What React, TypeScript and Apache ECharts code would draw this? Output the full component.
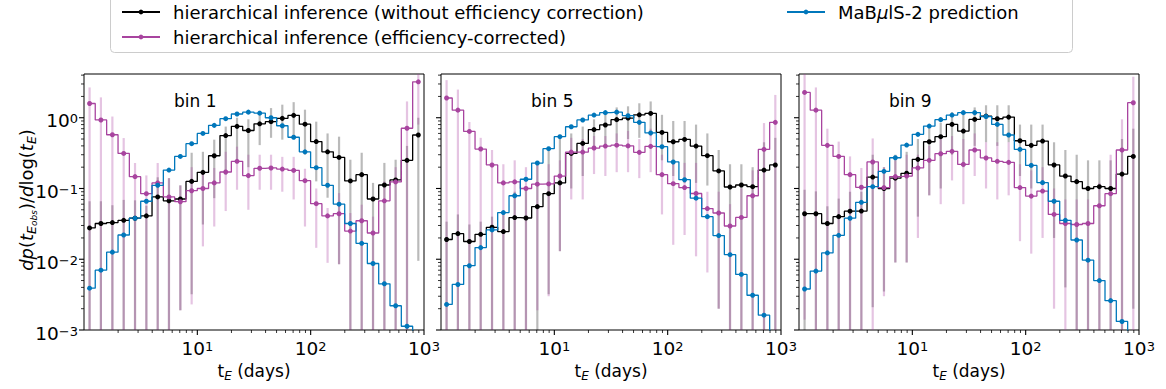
import React, { useEffect, useRef } from 'react';
import * as echarts from 'echarts';

// bin centres (days)
const tE = [1.12, 1.41, 1.78, 2.24, 2.82, 3.55, 4.47, 5.62, 7.08, 8.91, 11.2, 14.1, 17.8, 22.4, 28.2, 35.5, 44.7, 56.2, 70.8, 89.1, 112, 141, 178, 224, 282, 355, 447, 562, 708, 891];

const binLabels = ['bin 1', 'bin 5', 'bin 9'];

// ---------- bin 1 ----------
const blue1 = [0.0039, 0.007, 0.0126, 0.022, 0.038, 0.066, 0.111, 0.182, 0.284, 0.43, 0.6, 0.78, 0.97, 1.13, 1.2, 1.16, 1.0, 0.77, 0.53, 0.33, 0.197, 0.111, 0.06, 0.032, 0.0168, 0.0087, 0.0045, 0.0022, 0.00113, 0.0006];
const black1 = [0.0277, 0.032, 0.033, 0.0355, 0.038, 0.041, 0.076, 0.067, 0.071, 0.126, 0.169, 0.29, 0.56, 0.755, 0.66, 0.82, 0.88, 0.98, 1.08, 0.81, 0.46, 0.33, 0.275, 0.128, 0.157, 0.071, 0.112, 0.132, 0.25, 0.57];
const black1Lo = [1e-4, 1e-4, 1e-4, 1e-4, 1e-4, 1e-4, 1e-4, 1e-4, 0.0019, 0.0032, 0.031, 0.073, 0.157, 0.25, 0.2, 0.41, 0.52, 0.49, 0.52, 0.3, 0.126, 0.074, 0.0085, 1e-4, 1e-4, 1e-4, 1e-4, 1e-4, 1e-4, 0.0095];
const black1Hi = [0.066, 0.066, 0.058, 0.069, 0.068, 0.057, 0.144, 0.14, 0.111, 0.32, 0.33, 0.49, 0.75, 1.0, 0.95, 1.26, 1.37, 1.53, 1.66, 1.3, 0.88, 0.6, 0.54, 0.255, 0.32, 0.12, 0.23, 0.255, 0.4, 1.0];
const mag1 = [1.59, 0.93, 0.575, 0.313, 0.147, 0.0845, 0.12, 0.076, 0.065, 0.093, 0.1, 0.12, 0.171, 0.242, 0.152, 0.193, 0.195, 0.188, 0.18, 0.129, 0.061, 0.041, 0.044, 0.025, 0.035, 0.0235, 0.067, 0.124, 0.71, 3.22];
const mag1Lo = [1e-4, 1e-4, 1e-4, 1e-4, 1e-4, 1e-4, 1e-4, 1e-4, 0.0019, 0.0023, 0.0152, 0.029, 0.048, 0.096, 0.05, 0.096, 0.096, 0.09, 0.07, 0.029, 0.0145, 0.0089, 0.0085, 1e-4, 1e-4, 1e-4, 1e-4, 1e-4, 1e-4, 0.8];
const mag1Hi = [2.68, 1.94, 1.04, 0.516, 0.229, 0.153, 0.229, 0.14, 0.11, 0.2, 0.175, 0.195, 0.33, 0.39, 0.3, 0.3, 0.3, 0.28, 0.28, 0.19, 0.1, 0.053, 0.086, 0.045, 0.059, 0.04, 0.126, 0.2, 1.7, 5];

// ---------- bin 5 ----------
const blue2 = [0.0023, 0.0044, 0.0081, 0.0146, 0.026, 0.0457, 0.079, 0.135, 0.229, 0.365, 0.54, 0.746, 0.93, 1.09, 1.18, 1.2, 1.07, 0.86, 0.61, 0.39, 0.237, 0.133, 0.073, 0.04, 0.0216, 0.0116, 0.0061, 0.0031, 0.00162, 0.0008];
const black2 = [0.019, 0.023, 0.0178, 0.0225, 0.0283, 0.0246, 0.0388, 0.0383, 0.0554, 0.0845, 0.12, 0.313, 0.434, 0.68, 0.79, 0.94, 0.99, 1.1, 1.15, 0.62, 0.458, 0.494, 0.398, 0.291, 0.177, 0.105, 0.112, 0.106, 0.182, 0.215];
const black2Lo = [1e-4, 1e-4, 1e-4, 1e-4, 1e-4, 1e-4, 1e-4, 1e-4, 1e-4, 0.0032, 0.013, 0.1, 0.15, 0.35, 0.42, 0.45, 0.5, 0.52, 0.55, 0.25, 0.15, 0.12, 0.12, 0.11, 0.002, 1e-4, 1e-4, 1e-4, 1e-4, 1e-4];
const black2Hi = [0.034, 0.043, 0.031, 0.034, 0.04, 0.043, 0.09, 0.1, 0.22, 0.35, 0.52, 0.6, 0.75, 0.95, 1.1, 1.4, 1.45, 1.6, 1.7, 1.1, 0.9, 0.9, 0.8, 0.6, 0.35, 0.22, 0.22, 0.2, 0.45, 0.52];
const mag2 = [1.9, 1.28, 0.64, 0.361, 0.215, 0.12, 0.124, 0.1, 0.115, 0.116, 0.15, 0.327, 0.327, 0.373, 0.398, 0.41, 0.4, 0.324, 0.394, 0.157, 0.117, 0.103, 0.085, 0.052, 0.045, 0.0295, 0.039, 0.079, 0.357, 0.86];
const mag2Lo = [1e-4, 1e-4, 1e-4, 1e-4, 1e-4, 1e-4, 1e-4, 1e-4, 0.0019, 0.003, 0.013, 0.07, 0.07, 0.16, 0.15, 0.17, 0.17, 0.14, 0.17, 0.043, 0.016, 0.022, 0.011, 0.0065, 0.002, 1e-4, 1e-4, 1e-4, 1e-4, 1e-4];
const mag2Hi = [3.4, 2.5, 0.87, 0.52, 0.35, 0.22, 0.25, 0.2, 0.22, 0.22, 0.25, 0.52, 0.5, 0.55, 0.55, 0.6, 0.65, 0.5, 0.7, 0.3, 0.23, 0.23, 0.23, 0.09, 0.09, 0.06, 0.1, 0.18, 0.84, 2.1];

// ---------- bin 9 ----------
const blue3 = [0.0038, 0.0068, 0.0123, 0.0218, 0.038, 0.0638, 0.106, 0.175, 0.272, 0.411, 0.582, 0.762, 0.94, 1.09, 1.18, 1.18, 1.04, 0.805, 0.57, 0.357, 0.212, 0.121, 0.066, 0.0355, 0.0187, 0.0097, 0.005, 0.0026, 0.00132, 0.0007];
const black3 = [0.044, 0.044, 0.032, 0.04, 0.0478, 0.048, 0.145, 0.1, 0.14, 0.164, 0.258, 0.458, 0.54, 0.805, 0.648, 0.947, 1.056, 0.968, 1.02, 0.473, 0.407, 0.468, 0.215, 0.15, 0.125, 0.1, 0.106, 0.1, 0.16, 0.284];
const black3Lo = [1e-4, 1e-4, 1e-4, 1e-4, 1e-4, 1e-4, 0.0021, 0.0035, 0.009, 0.009, 0.04, 0.08, 0.1, 0.3, 0.2, 0.4, 0.45, 0.4, 0.45, 0.15, 0.1, 0.12, 0.02, 0.004, 1e-4, 1e-4, 1e-4, 1e-4, 1e-4, 0.002];
const black3Hi = [0.096, 0.091, 0.056, 0.072, 0.09, 0.09, 0.3, 0.2, 0.3, 0.33, 0.5, 0.75, 0.85, 1.2, 1.1, 1.4, 1.5, 1.5, 1.5, 0.8, 0.8, 0.8, 0.45, 0.35, 0.3, 0.25, 0.25, 0.25, 0.5, 0.7];
const mag3 = [2.28, 1.28, 0.407, 0.284, 0.157, 0.104, 0.237, 0.103, 0.147, 0.15, 0.195, 0.25, 0.31, 0.335, 0.219, 0.35, 0.27, 0.242, 0.234, 0.103, 0.078, 0.092, 0.043, 0.032, 0.031, 0.032, 0.057, 0.0845, 0.35, 1.63];
const mag3Lo = [0.0014, 1e-4, 1e-4, 1e-4, 1e-4, 1e-4, 1e-4, 0.003, 0.009, 0.009, 0.02, 0.08, 0.06, 0.13, 0.06, 0.15, 0.1, 0.07, 0.08, 0.018, 0.012, 0.02, 0.002, 1e-4, 1e-4, 1e-4, 1e-4, 1e-4, 1e-4, 1e-4];
const mag3Hi = [4.5, 2.68, 0.7, 0.46, 0.284, 0.195, 0.51, 0.2, 0.25, 0.3, 0.3, 0.4, 0.5, 0.55, 0.5, 0.6, 0.45, 0.45, 0.45, 0.22, 0.18, 0.2, 0.1, 0.07, 0.07, 0.07, 0.12, 0.3, 0.95, 3.8];

// ticks
const xMajorTicks = [10, 100, 1000];
const xMinorTicks = [2, 3, 4, 5, 6, 7, 8, 9, 20, 30, 40, 50, 60, 70, 80, 90, 200, 300, 400, 500, 600, 700, 800, 900];
const yMajorTicks = [0.001, 0.01, 0.1, 1];
const yMinorTicks = [0.002, 0.003, 0.004, 0.005, 0.006, 0.007, 0.008, 0.009, 0.02, 0.03, 0.04, 0.05, 0.06, 0.07, 0.08, 0.09, 0.2, 0.3, 0.4, 0.5, 0.6, 0.7, 0.8, 0.9, 2, 3, 4];

const panels = [
  { blue: blue1, black: black1, blackLo: black1Lo, blackHi: black1Hi, mag: mag1, magLo: mag1Lo, magHi: mag1Hi },
  { blue: blue2, black: black2, blackLo: black2Lo, blackHi: black2Hi, mag: mag2, magLo: mag2Lo, magHi: mag2Hi },
  { blue: blue3, black: black3, blackLo: black3Lo, blackHi: black3Hi, mag: mag3, magLo: mag3Lo, magHi: mag3Hi },
];

const GRID_LEFT = [84, 441, 799];
const GRID_TOP = 74;
const GRID_W = 340;
const GRID_H = 256;
const X_MIN = 1;
const X_MAX = 1000;
const Y_MIN = 0.001;
const Y_MAX = 4.15;

const NAME_BLACK = 'hierarchical inference (without efficiency correction)';
const NAME_MAG = 'hierarchical inference (efficiency-corrected)';
const NAME_BLUE = 'MaBμlS-2 prediction';
const C_BLACK = '#000000';
const C_MAG = '#a8449f';
const C_BLUE = '#0077bb';
const ERR_MAG = 'rgba(170, 60, 160, 0.3)';
const ERR_BLACK = 'rgba(0, 0, 0, 0.27)';
const FONT = 'DejaVu Sans';
const FS = 17;
const FS_TICK = 18.5;
const FS_LEG = 18;

function powLabel(v: number, hideZero: boolean) {
  const l = Math.log10(v);
  const e = Math.round(l);
  if (Math.abs(l - e) > 1e-6) return '';
  if (hideZero && e === 0) return '';
  const es = e < 0 ? '\u2212' + String(-e) : String(e);
  return '{b|10}{s|' + es + '}';
}

const powRich = {
  b: { fontSize: FS_TICK, lineHeight: 21, padding: [6, 0, 0, 0], fontFamily: FONT, color: '#000' },
  s: { fontSize: 13, lineHeight: 11, padding: [5, 0, 0, 0], verticalAlign: 'top', fontFamily: FONT, color: '#000' },
};

const xNameRich = {
  n: { fontSize: FS, lineHeight: 22, fontFamily: FONT, color: '#000' },
  s: { fontSize: 12, lineHeight: 13, verticalAlign: 'bottom', fontStyle: 'italic', fontFamily: FONT, color: '#000' },
};

function buildOption() {
  const series: any[] = [];
  panels.forEach((p, g) => {
    const errSeries = (lo: number[], hi: number[], color: string) => ({
      type: 'custom',
      xAxisIndex: g,
      yAxisIndex: g,
      silent: true,
      z: 1,
      data: tE.map((x, i) => [x, lo[i], hi[i]]),
      renderItem: (params: any, api: any) => {
        const x = api.value(0);
        const a = Math.max(api.value(1), Y_MIN);
        const b = Math.min(api.value(2), Y_MAX);
        const p1 = api.coord([x, a]);
        const p2 = api.coord([x, b]);
        return {
          type: 'line',
          shape: { x1: p1[0], y1: p1[1], x2: p2[0], y2: p2[1] },
          style: { stroke: color, lineWidth: 2.2 },
        };
      },
    });
    series.push(errSeries(p.blackLo, p.blackHi, ERR_BLACK));
    series.push(errSeries(p.magLo, p.magHi, ERR_MAG));

    const lineSeries = (name: string, vals: number[], color: string) => ({
      type: 'line',
      name,
      xAxisIndex: g,
      yAxisIndex: g,
      data: tE.map((x, i) => [x, vals[i]]),
      step: 'middle',
      symbol: 'circle',
      symbolSize: 5,
      showSymbol: true,
      clip: true,
      z: 3,
      lineStyle: { width: 1.3, color },
      itemStyle: { color },
      emphasis: { disabled: true },
    });
    series.push(lineSeries(NAME_BLACK, p.black, C_BLACK));
    series.push(lineSeries(NAME_MAG, p.mag, C_MAG));
    series.push(lineSeries(NAME_BLUE, p.blue, C_BLUE));

    // axis ticks (major + minor), drawn through the axis scales
    const tickSeries = (data: number[][], dir: 'x' | 'y') => ({
      type: 'custom',
      xAxisIndex: g,
      yAxisIndex: g,
      silent: true,
      z: 5,
      data,
      renderItem: (params: any, api: any) => {
        const pt = api.coord([api.value(0), api.value(1)]);
        const len = api.value(2);
        const lw = len > 4 ? 1.1 : 0.8;
        const shape = dir === 'x'
          ? { x1: pt[0], y1: pt[1], x2: pt[0], y2: pt[1] + len }
          : { x1: pt[0] - len, y1: pt[1], x2: pt[0], y2: pt[1] };
        return { type: 'line', shape, style: { stroke: '#000', lineWidth: lw } };
      },
    });
    series.push(tickSeries(
      xMajorTicks.map((v) => [v, Y_MIN, 5]).concat(xMinorTicks.map((v) => [v, Y_MIN, 3])), 'x'));
    series.push(tickSeries(
      yMajorTicks.map((v) => [X_MIN, v, 5]).concat(yMinorTicks.map((v) => [X_MIN, v, 3])), 'y'));
  });

  const legendCommon = {
    orient: 'vertical',
    top: 2,
    padding: 0,
    itemGap: 5,
    itemWidth: 38,
    itemHeight: 6,
    selectedMode: false,
    textStyle: {
      fontSize: FS_LEG,
      lineHeight: 20,
      fontFamily: FONT,
      color: '#000',
      padding: [0, 0, 0, 8],
      rich: {
        n: { fontSize: FS_LEG, fontFamily: FONT, color: '#000' },
        m: { fontSize: FS_LEG, fontFamily: FONT, fontStyle: 'italic', color: '#000' },
      },
    },
  };

  const yLabelRich = {
    i: { fontSize: 18, lineHeight: 24, fontStyle: 'italic', fontFamily: FONT, fill: '#000' },
    u: { fontSize: 18, lineHeight: 24, fontFamily: FONT, fill: '#000' },
    s1: { fontSize: 12.5, lineHeight: 14, verticalAlign: 'bottom', fontStyle: 'italic', fontFamily: FONT, fill: '#000' },
    s2: { fontSize: 9, lineHeight: 8, verticalAlign: 'bottom', fontStyle: 'italic', fontFamily: FONT, fill: '#000' },
  };

  const graphics: any[] = [
    {
      type: 'rect',
      z: 0,
      shape: { x: 110.5, y: -4.5, width: 962, height: 57, r: 4 },
      style: { fill: 'rgba(255,255,255,0.8)', stroke: '#cccccc', lineWidth: 1 },
    },
    {
      type: 'text',
      x: 26,
      y: 200,
      rotation: Math.PI / 2,
      style: {
        text: '{i|dp}{u|(}{i|t}{s1|E}{s2|obs}{u|)/}{i|d}{u|log(}{i|t}{s1|E}{u|)}',
        rich: yLabelRich,
        align: 'center',
        verticalAlign: 'middle',
        fill: '#000',
        fontSize: 18,
        fontFamily: FONT,
      },
    },
  ];
  binLabels.forEach((t, g) => {
    graphics.push({
      type: 'text',
      x: GRID_LEFT[g] + 90,
      y: 101,
      style: { text: t, fontSize: FS, fontFamily: FONT, fill: '#000', align: 'left', verticalAlign: 'middle' },
    });
  });

  return {
    animation: false,
    backgroundColor: '#ffffff',
    textStyle: { fontFamily: FONT },
    grid: GRID_LEFT.map((l) => ({
      left: l,
      top: GRID_TOP,
      width: GRID_W,
      height: GRID_H,
      show: true,
      borderColor: '#000',
      borderWidth: 1,
      backgroundColor: 'transparent',
    })),
    xAxis: GRID_LEFT.map((_, g) => ({
      type: 'log',
      logBase: 10,
      gridIndex: g,
      min: X_MIN,
      max: X_MAX,
      axisLine: { show: false },
      axisTick: { show: false },
      splitLine: { show: false },
      axisLabel: {
        formatter: (v: number) => powLabel(v, true),
        rich: powRich,
        margin: 5,
      },
      name: '{n|t}{s|E}{n| (days)}',
      nameLocation: 'middle',
      nameGap: 27,
      nameTextStyle: { rich: xNameRich },
    })),
    yAxis: GRID_LEFT.map((_, g) => ({
      type: 'log',
      logBase: 10,
      gridIndex: g,
      min: Y_MIN,
      max: Y_MAX,
      axisLine: { show: false },
      axisTick: { show: false },
      splitLine: { show: false },
      axisLabel: {
        show: g === 0,
        formatter: (v: number) => powLabel(v, false),
        rich: powRich,
        margin: 6,
      },
    })),
    legend: [
      { ...legendCommon, left: 121, data: [NAME_BLACK, NAME_MAG] },
      {
        ...legendCommon,
        left: 786,
        data: [NAME_BLUE],
        formatter: (name: string) => (name === NAME_BLUE ? '{n|MaB}{m|μ}{n|lS-2 prediction}' : name),
      },
    ],
    graphic: graphics,
    series,
  };
}

export default function App() {
  const ref = useRef<HTMLDivElement>(null);
  useEffect(() => {
    if (!ref.current) return;
    const chart = echarts.init(ref.current, undefined, { renderer: 'svg' });
    chart.setOption(buildOption() as any);
    return () => {
      chart.dispose();
    };
  }, []);
  return (
    <div
      ref={ref}
      style={{ position: 'absolute', left: 0, top: 0, width: 1166, height: 389, background: '#fff' }}
    />
  );
}
